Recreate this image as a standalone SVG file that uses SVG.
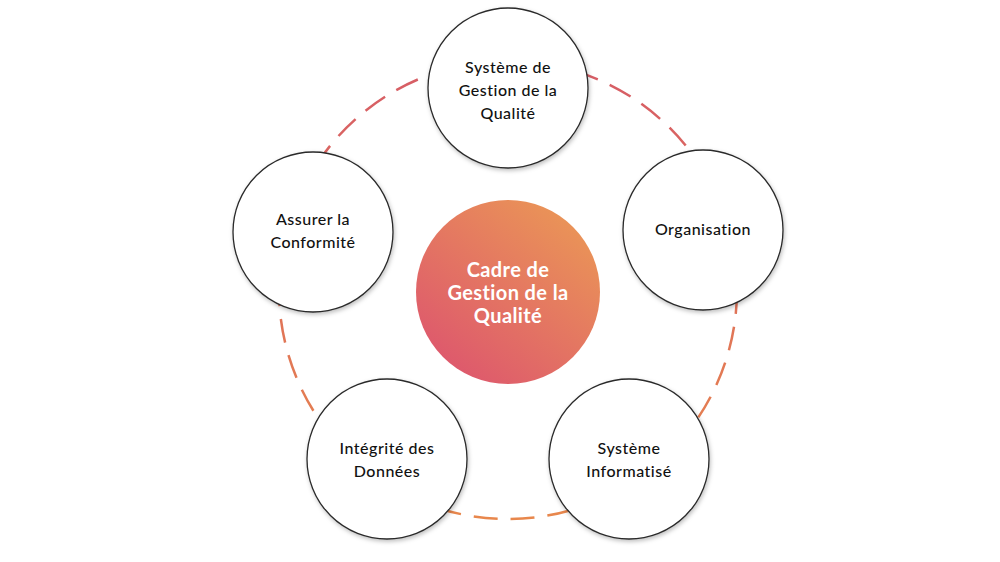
<svg xmlns="http://www.w3.org/2000/svg" width="1000" height="562" viewBox="0 0 1000 562">
<defs>
<linearGradient id="ring" x1="0" y1="0" x2="0" y2="1"><stop offset="0" stop-color="#d65c66"/><stop offset="1" stop-color="#e8874c"/></linearGradient>
<linearGradient id="core" x1="0.85" y1="0.1" x2="0.2" y2="0.9"><stop offset="0" stop-color="#ea9457"/><stop offset="1" stop-color="#de5a6c"/></linearGradient>
<filter id="sh" x="-20%" y="-20%" width="140%" height="140%"><feDropShadow dx="1" dy="2" stdDeviation="2" flood-opacity="0.25"/></filter>
</defs>
<style>
.n{fill:#fff;stroke:#2a2a2a;stroke-width:1.3;filter:url(#sh)}
.t{font-family:Lato,"Open Sans",sans-serif;font-size:16px;font-weight:500;letter-spacing:0.5px;fill:#111;text-anchor:middle}
.c{font-family:Lato,"Open Sans",sans-serif;font-size:20px;font-weight:bold;letter-spacing:0.4px;fill:#fff;text-anchor:middle}
</style>
<rect width="1000" height="562" fill="#fff"/>
<g id="connectors"><circle cx="508" cy="290" r="229" fill="none" stroke="url(#ring)" stroke-width="2.5" stroke-dasharray="24 13"/></g>
<g id="center"><circle cx="508" cy="292" r="92" fill="url(#core)"/>
<text class="c" x="508" y="277">Cadre de</text><text class="c" x="508" y="300">Gestion de la</text><text class="c" x="508" y="323">Qualité</text></g>
<g id="sgq"><circle class="n" cx="508" cy="88" r="80"/>
<text class="t" x="508" y="73">Système de</text><text class="t" x="508" y="96">Gestion de la</text><text class="t" x="508" y="119">Qualité</text></g>
<g id="org"><circle class="n" cx="703" cy="230" r="80"/><text class="t" x="703" y="235">Organisation</text></g>
<g id="si"><circle class="n" cx="629" cy="459" r="80"/>
<text class="t" x="629" y="454">Système</text><text class="t" x="629" y="477">Informatisé</text></g>
<g id="id"><circle class="n" cx="387" cy="459" r="80"/>
<text class="t" x="387" y="454">Intégrité des</text><text class="t" x="387" y="477">Données</text></g>
<g id="ac"><circle class="n" cx="313" cy="232" r="80"/>
<text class="t" x="313" y="225">Assurer la</text><text class="t" x="313" y="248">Conformité</text></g>
</svg>
